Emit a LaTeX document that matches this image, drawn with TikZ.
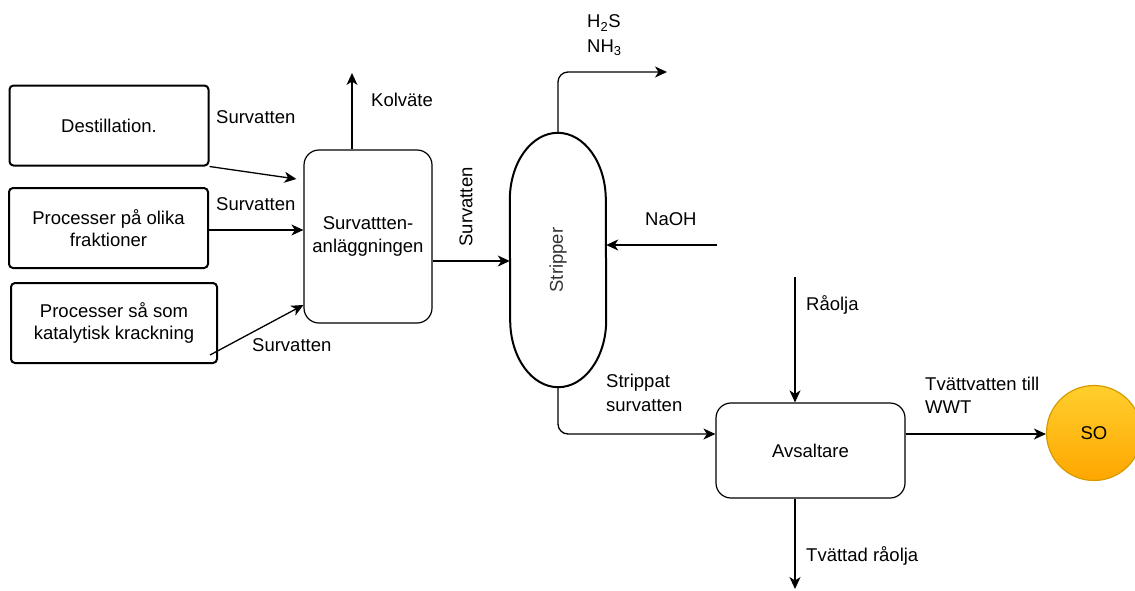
\documentclass[tikz,border=0pt]{standalone}
\usepackage{fontspec}
\setmainfont{Liberation Sans}
\usetikzlibrary{arrows.meta,calc}
\definecolor{soborder}{RGB}{214,155,0}
\definecolor{sotop}{RGB}{255,207,45}
\definecolor{sobottom}{RGB}{255,166,0}
\tikzset{
  txt/.style={font=\fontsize{18.5}{22.5}\selectfont},
  srcbox/.style={txt, draw, line width=2pt, rounded corners=4pt, fill=white, align=center, inner sep=0pt},
  unitbox/.style={txt, draw, line width=1.2pt, rounded corners=15pt, fill=white, align=center, inner sep=0pt},
  flow/.style={line width=1.3pt, -{Stealth[length=12pt,width=11pt,inset=3.5pt]}},
  lbl/.style={txt, anchor=west, inner sep=0pt, align=left},
}
\begin{document}
\begin{tikzpicture}[x=1pt,y=-1pt]
\useasboundingbox (0,0) rectangle (1135,590);

% source processes
\node[srcbox, minimum width=199pt, minimum height=80pt] (dest) at (109,125.5) {Destillation.};
\node[srcbox, minimum width=199pt, minimum height=80pt] (frak) at (108.5,228) {Processer på olika\\fraktioner};
\node[srcbox, minimum width=206pt, minimum height=80pt] (krack) at (114,323) {Processer så som\\katalytisk krackning};

% sour water unit
\node[unitbox, minimum width=128pt, minimum height=173pt] (surv) at (368,236.5) {Survattten-\\anläggningen};

% stripper column: straight sides with elliptical heads
\node[minimum width=96pt, minimum height=254pt, inner sep=0pt] (strip) at (558,260) {};
\draw[line width=2pt] ($(strip.north west)+(0,67)$)
  arc[start angle=180, end angle=360, x radius=48, y radius=67]
  -- ($(strip.south east)+(0,-67)$)
  arc[start angle=0, end angle=180, x radius=48, y radius=67]
  -- cycle;
\node[txt, rotate=90, text=black!80] at (strip.center) {Stripper};

% desalter
\node[unitbox, minimum width=189pt, minimum height=95pt] (avs) at (810.5,450.5) {Avsaltare};

% sewer outlet
\node[txt, circle, draw=soborder, line width=1.2pt, top color=sotop, bottom color=sobottom, minimum size=95pt, inner sep=0pt] (so) at (1094,433) {SO};

% free ends of the flows
\coordinate (kolv) at (352,73);
\coordinate (gas) at (667,72);
\coordinate (naoh) at (717,245);
\coordinate (raolja) at (795,277);
\coordinate (tvattad) at (795,589);

% sour water streams
\draw[flow] (dest.south east) -- ([xshift=-7pt]surv.west |- 0,179);
\draw[flow] (frak.east |- 0,230) -- (surv.west |- 0,230);
\draw[flow] ([xshift=-8pt]krack.east |- 0,355) -- (surv.west |- 0,305);
\draw[flow] (surv.north -| kolv) -- (kolv);
\draw[flow] (surv.east |- 0,261) -- (strip.west |- 0,261);

% stripper streams
\draw[flow, rounded corners=10pt] (strip.north) |- (gas);
\draw[flow] (naoh) -- (strip.east |- naoh);
\draw[flow, rounded corners=10pt] (strip.south) |- (avs.west |- 0,434);

% desalter streams
\draw[flow] (raolja) -- (avs.north -| raolja);
\draw[flow] (avs.east |- 0,434) -- (so.west |- 0,434);
\draw[flow] (avs.south -| tvattad) -- (tvattad);

% stream labels
\node[lbl] at (216,117) {Survatten};
\node[lbl] at (216,204) {Survatten};
\node[lbl] at (252,345) {Survatten};
\node[lbl] at (371,100) {Kolväte};
\node[txt, rotate=90, inner sep=0pt] at (466,207) {Survatten};
\node[lbl] at (587,23) {H\textsubscript{2}S};
\node[lbl] at (587,48) {NH\textsubscript{3}};
\node[lbl] at (645,219) {NaOH};
\node[lbl] at (606,383) {Strippat};
\node[lbl] at (606,406) {survatten};
\node[lbl] at (806,305) {Råolja};
\node[lbl] at (925,384) {Tvättvatten till};
\node[lbl] at (925,407) {WWT};
\node[lbl] at (806,556) {Tvättad råolja};
\end{tikzpicture}
\end{document}
